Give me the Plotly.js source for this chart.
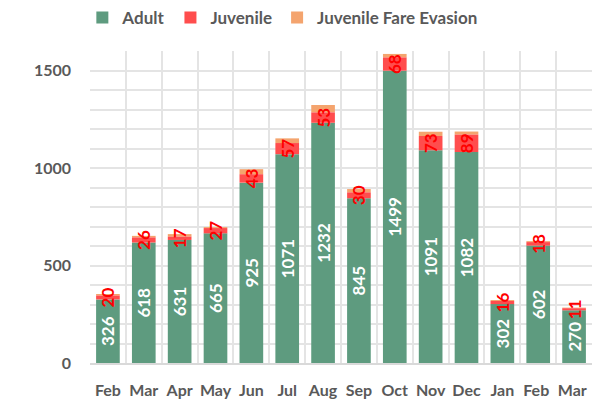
<!DOCTYPE html>
<html>
<head>
<meta charset="utf-8">
<script src="https://cdn.plot.ly/plotly-3.0.1.min.js"></script>
<style>html,body{margin:0;padding:0;background:#fff;}#chart{width:610px;height:403px;}</style>
</head>
<body>
<div id="chart"></div>
<script>
const months = ["Feb","Mar","Apr","May","Jun","Jul","Aug","Sep","Oct","Nov","Dec","Jan","Feb ","Mar "];
const adult = [326,618,631,665,925,1071,1232,845,1499,1091,1082,302,602,270];
const juvenile = [20,26,17,27,43,57,53,30,68,73,89,16,18,11];
const fareEvasion = [8,8,13,5,26,24,38,17,18,22,16,5,5,3];

const fontFam = "Lato, 'Open Sans', sans-serif";
const grey = "#595959";
const gridCol = "#e4e4e4";
const barW = 0.66;

const juvBase = adult.slice();
const feBase = adult.map((a, i) => a + juvenile[i]);

const traces = [
  {
    type: "bar", name: "Adult", x: months, y: adult, base: 0, width: barW,
    marker: {color: "#5e9b7f"}, legendrank: 1,
    text: adult.map(String), textposition: "inside", insidetextanchor: "middle",
    textangle: -90, constraintext: "none",
    insidetextfont: {family: fontFam, size: 17, color: "#ffffff", weight: "bold"},
    hoverinfo: "x+y"
  },
  {
    type: "bar", name: "Juvenile Fare Evasion", x: months, y: fareEvasion, base: feBase, width: barW,
    marker: {color: "#f4a46e"}, legendrank: 3, hoverinfo: "x+y"
  },
  {
    type: "bar", name: "Juvenile", x: months, y: juvenile, base: juvBase, width: barW,
    marker: {color: "#ff4d4d"}, legendrank: 2,
    text: juvenile.map(String), textposition: "inside", insidetextanchor: "middle",
    textangle: -90, constraintext: "none",
    insidetextfont: {family: fontFam, size: 17, color: "#ff0000", weight: "bold"},
    hoverinfo: "x+y"
  }
];

const layout = {
  width: 610, height: 403,
  margin: {l: 90, r: 18, t: 51, b: 40},
  paper_bgcolor: "#ffffff", plot_bgcolor: "#ffffff",
  barmode: "overlay",
  font: {family: fontFam, color: grey},
  showlegend: true,
  legend: {
    orientation: "h", x: 0.135, xref: "container", xanchor: "left",
    y: 1.0, yref: "container", yanchor: "top",
    font: {family: fontFam, size: 17, color: grey, weight: "bold"},
    itemwidth: 30
  },
  xaxis: {
    type: "category", tickson: "boundaries", ticks: "", tickangle: 0,
    showgrid: true, gridcolor: gridCol, gridwidth: 2,
    showline: true, linecolor: "#d9d9d9", linewidth: 2,
    tickfont: {family: fontFam, size: 16, color: grey, weight: "bold"},
    ticklabelstandoff: 12, fixedrange: true
  },
  xaxis2: {
    overlaying: "x", anchor: "y", type: "linear",
    range: [-0.5, months.length - 0.5], tick0: -0.5, dtick: 1,
    showgrid: true, gridcolor: gridCol, gridwidth: 2,
    showticklabels: false, ticks: "", zeroline: false, showline: false,
    fixedrange: true
  },
  yaxis: {
    range: [0, 1600], dtick: 500, tick0: 0, ticks: "",
    showgrid: true, gridcolor: gridCol, gridwidth: 2,
    minor: {dtick: 100, showgrid: true, gridcolor: gridCol, gridwidth: 2},
    zeroline: false, showline: false,
    tickfont: {family: fontFam, size: 16, color: grey, weight: "bold"},
    ticklabelstandoff: 18, fixedrange: true
  }
};

Plotly.newPlot("chart", traces, layout, {displayModeBar: false, staticPlot: true});
</script>
</body>
</html>
